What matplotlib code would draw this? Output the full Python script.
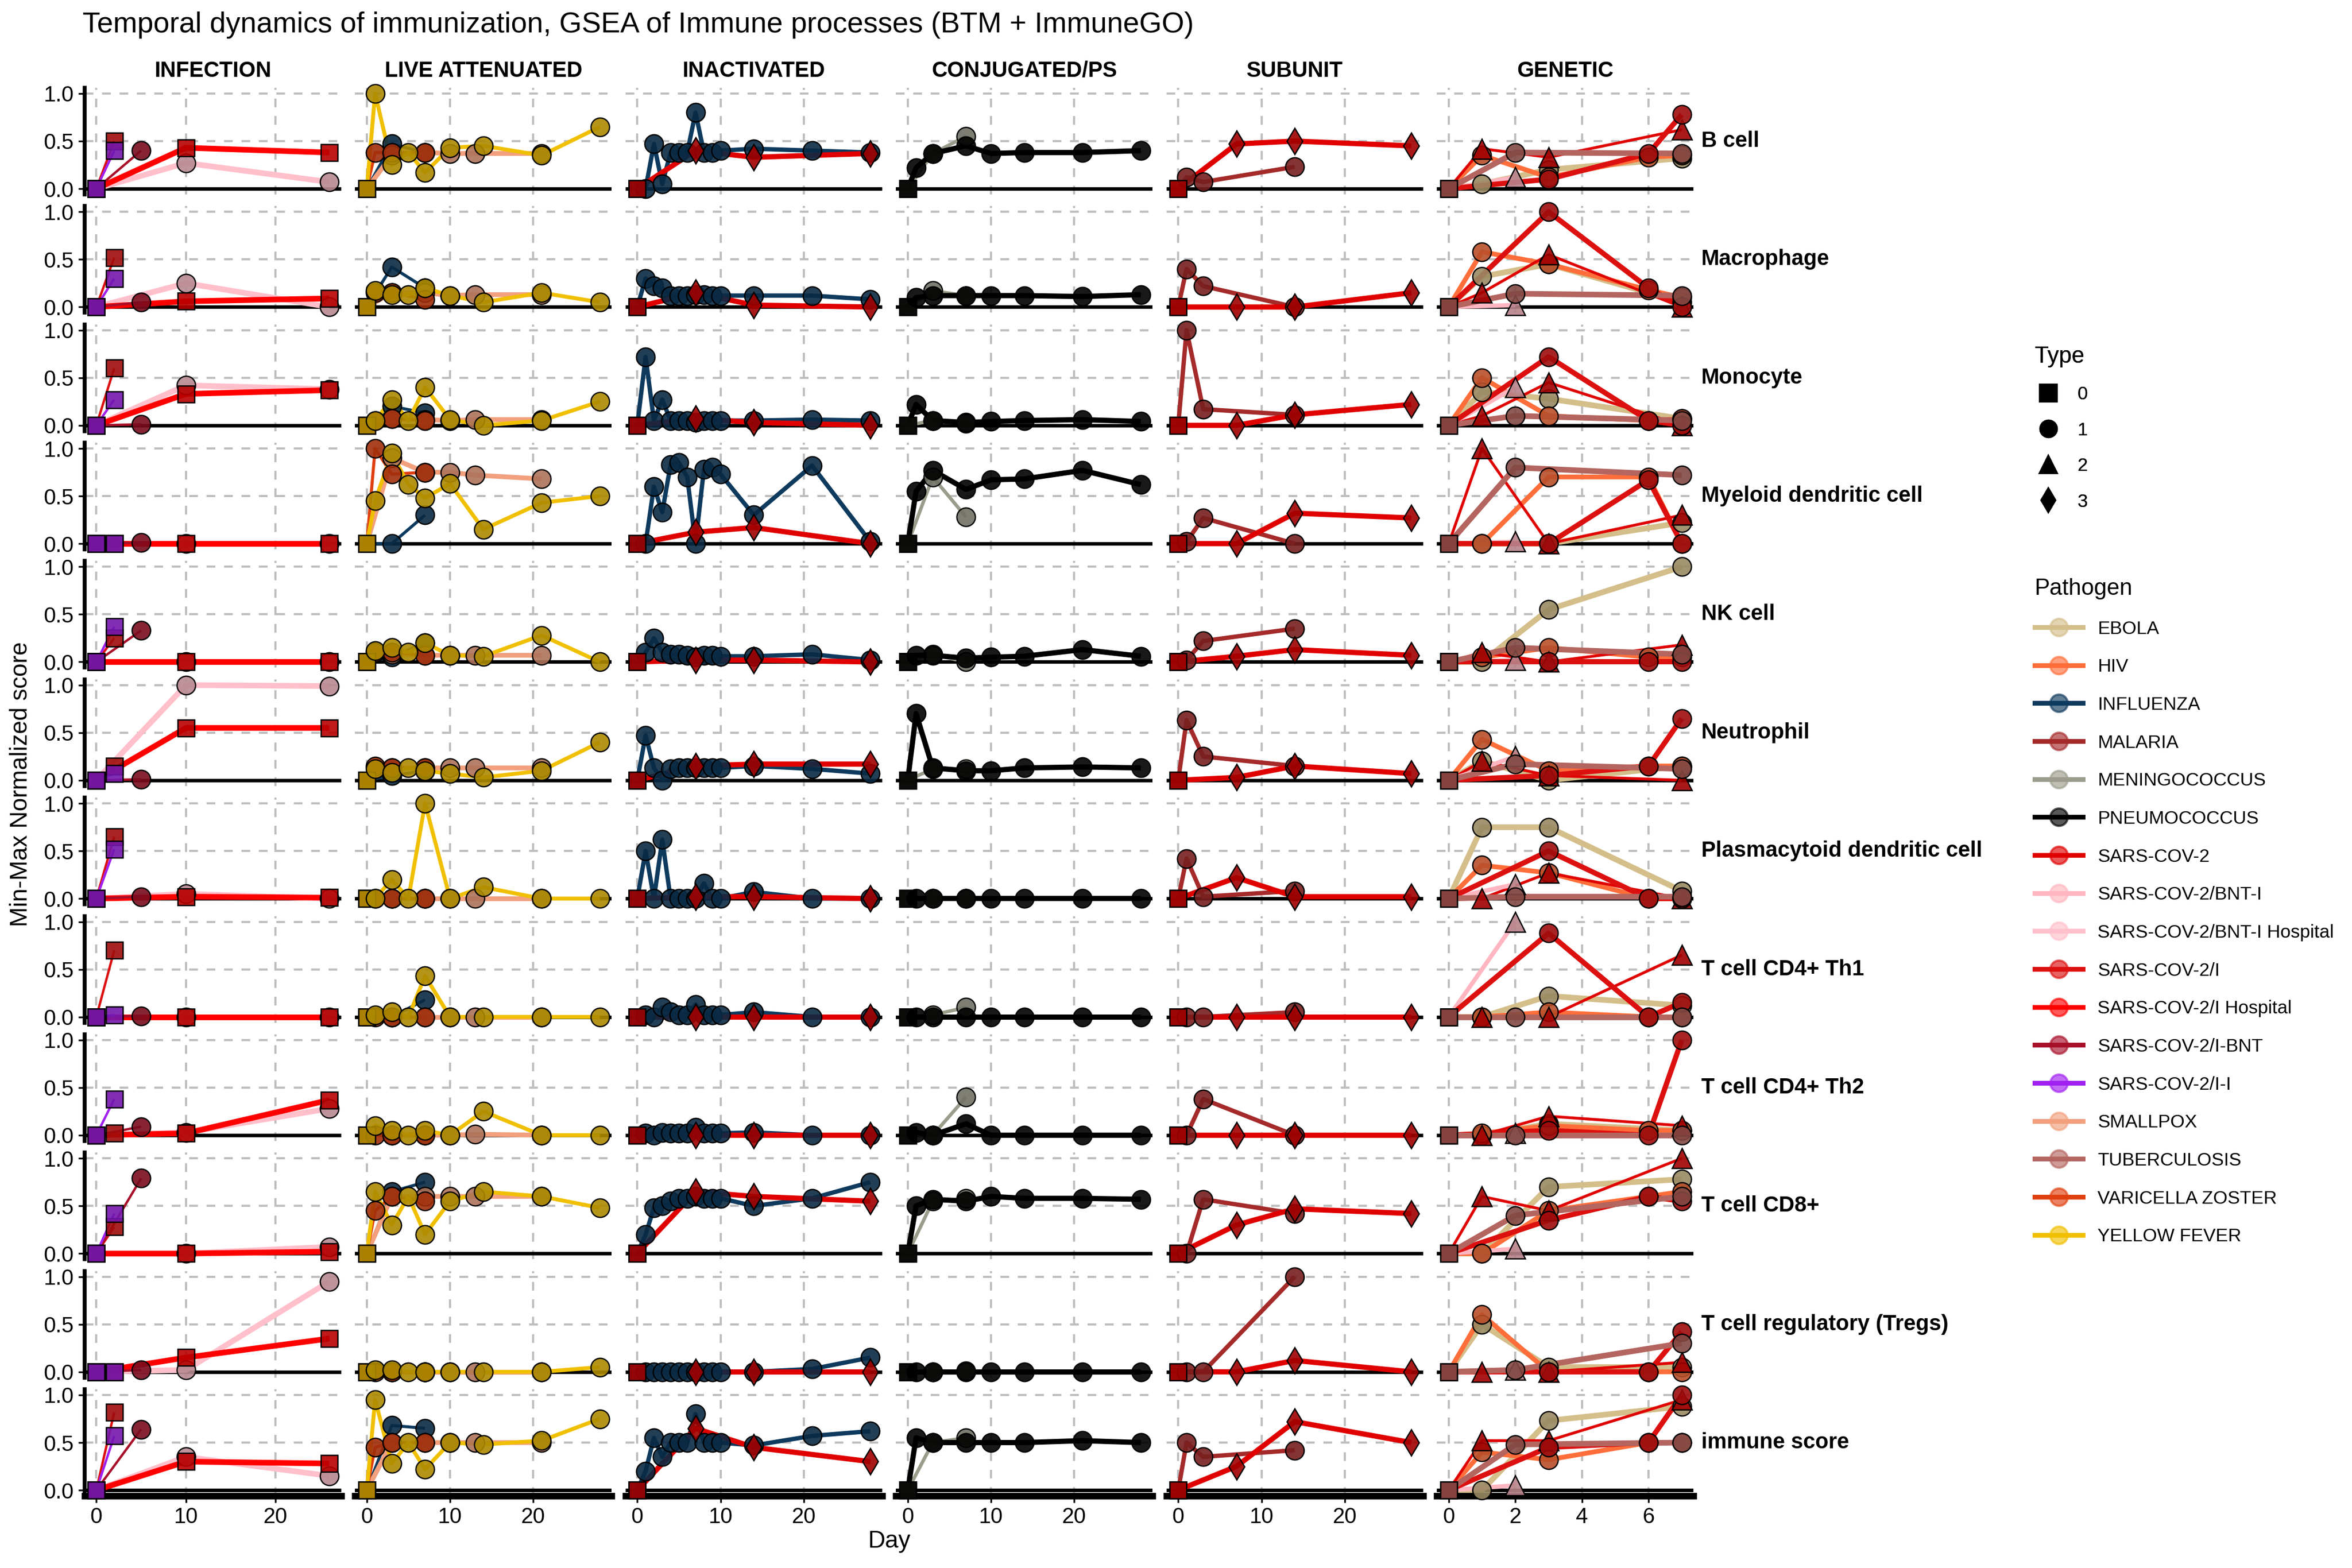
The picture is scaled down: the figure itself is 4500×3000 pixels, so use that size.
import numpy as np
import matplotlib.pyplot as plt
from matplotlib.lines import Line2D
from matplotlib.colors import to_rgb

plt.rcParams['font.family'] = ['Liberation Sans', 'DejaVu Sans']

cell_types = ["B cell", "Macrophage", "Monocyte", "Myeloid dendritic cell", "NK cell",
              "Neutrophil", "Plasmacytoid dendritic cell", "T cell CD4+ Th1",
              "T cell CD4+ Th2", "T cell CD8+", "T cell regulatory (Tregs)", "immune score"]
vaccine_types = ["INFECTION", "LIVE ATTENUATED", "INACTIVATED", "CONJUGATED/PS", "SUBUNIT", "GENETIC"]

pathogens = ["EBOLA", "HIV", "INFLUENZA", "MALARIA", "MENINGOCOCCUS", "PNEUMOCOCCUS",
             "SARS-COV-2", "SARS-COV-2/BNT-I", "SARS-COV-2/BNT-I Hospital", "SARS-COV-2/I",
             "SARS-COV-2/I Hospital", "SARS-COV-2/I-BNT", "SARS-COV-2/I-I", "SMALLPOX",
             "TUBERCULOSIS", "VARICELLA ZOSTER", "YELLOW FEVER"]
pathogen_colors = ["#D4BE8A", "#FF6E3A", "#0E3A5E", "#A52A2A", "#9C9C8C", "#000000",
                   "#E00000", "#FFB6C1", "#FFC0CB", "#DD1010", "#FF0000", "#A8102A",
                   "#A020F0", "#F2A07E", "#B4655F", "#E0400F", "#F0C000"]
type_labels = ["0", "1", "2", "3"]

# ---- INFECTION ----
inf_ii_days = [0, 2]
inf_ii_vals = [[0, .40], [0, .30], [0, .27], [0, 0], [0, .37], [0, .07],
               [0, .52], [0, .02], [0, .38], [0, .42], [0, 0], [0, .57]]
inf_i_days = [0, 2]
inf_i_vals = [[0, .50], [0, .52], [0, .60], [0, 0], [0, .25], [0, .15],
              [0, .65], [0, .70], [0, .02], [0, .28], [0, 0], [0, .82]]
inf_ibnt_days = [0, 5]
inf_ibnt_vals = [[0, .40], [0, .05], [0, .01], [0, .01], [0, .33], [0, .01],
                 [0, .02], [0, .01], [0, .09], [0, .79], [0, .02], [0, .64]]
inf_ihosp_days = [0, 10, 26]
inf_ihosp_vals = [[0, .43, .38], [0, .06, .09], [0, .33, .37], [0, 0, 0], [0, 0, 0],
                  [0, .55, .55], [0, .02, .01], [0, 0, 0], [0, .02, .37], [0, 0, .02],
                  [0, .15, .35], [0, .30, .28]]
inf_bnthosp_days = [0, 10, 26]
inf_bnthosp_vals = [[0, .27, .07], [0, .25, 0], [0, .42, .38], [0, 0, 0], [0, 0, 0],
                    [0, 1.0, .99], [0, .05, 0], [0, 0, 0], [0, .03, .28], [0, 0, .07],
                    [0, .02, .95], [0, .35, .15]]

# ---- LIVE ATTENUATED ----
la_vz_days = [0, 1, 3, 7]
la_vz_vals = [[0, .38, .38, .38], [0, .15, .15, .08], [0, .05, .07, .05], [0, 1.0, .73, .75],
              [0, .10, .10, .07], [0, .15, .13, .13], [0, 0, 0, 0], [0, 0, 0, 0],
              [0, 0, 0, 0], [0, .45, .60, .55], [0, 0, 0, 0], [0, .45, .50, .50]]
la_sp_days = [0, 3, 7, 10, 13, 21]
la_sp_vals = [[0, .35, .38, .37, .37, .37], [0, .15, .15, .12, .13, .13],
              [0, .07, .06, .05, .06, .06], [0, .90, .75, .75, .72, .68],
              [0, .08, .07, .07, .07, .07], [0, .13, .13, .13, .13, .13],
              [0, 0, 0, 0, 0, 0], [0, 0, 0, 0, 0, 0], [0, 0, 0, 0, .01, 0],
              [0, .60, .60, .60, .60, .60], [0, 0, 0, 0, 0, 0], [0, .50, .50, .50, .50, .50]]
la_flu_days = [0, 3, 7]
la_flu_vals = [[0, .47, .38], [0, .42, .20], [0, .20, .13], [0, 0, .30], [0, .05, .20],
               [0, .05, .10], [0, 0, 0], [0, 0, .18], [0, 0, 0], [0, .65, .75],
               [0, 0, 0], [0, .68, .65]]
la_yf_days = [0, 1, 3, 5, 7, 10, 14, 21, 28]
la_yf_vals = [[0, 1.0, .25, .38, .17, .43, .45, .35, .65],
              [0, .17, .13, .13, .20, .12, .05, .15, .05],
              [0, .05, .27, .05, .40, .06, 0, .05, .25],
              [0, .45, .95, .62, .48, .63, .15, .43, .50],
              [0, .12, .15, .10, .20, .07, .06, .28, 0],
              [0, .12, .08, .13, .10, .07, .03, .10, .40],
              [0, 0, .20, 0, 1.0, 0, .12, 0, 0],
              [0, .02, .05, 0, .43, 0, 0, 0, 0],
              [0, .10, .05, 0, .05, 0, .25, 0, 0],
              [0, .65, .30, .60, .20, .55, .65, .60, .48],
              [0, .02, .02, 0, 0, 0, 0, 0, .05],
              [0, .95, .28, .50, .22, .50, .48, .52, .75]]

# ---- INACTIVATED ----
ina_flu_days = [0, 1, 2, 3, 4, 5, 6, 7, 8, 9, 10, 14, 21, 28]
ina_flu_vals = [[0, 0, .47, .05, .38, .38, .38, .80, .38, .38, .40, .42, .40, .38],
                [0, .30, .22, .20, .12, .12, .12, .13, .13, .12, .12, .12, .12, .08],
                [0, .72, .05, .27, .05, .05, .05, .03, .05, .05, .05, .05, .06, .05],
                [0, 0, .60, .33, .83, .85, .70, 0, .78, .80, .73, .30, .82, .02],
                [0, .10, .25, .10, .08, .08, .07, .05, .07, .07, .06, .06, .08, .02],
                [0, .47, .13, 0, .12, .13, .13, .13, .13, .13, .13, .15, .12, .07],
                [0, .50, 0, .62, 0, 0, 0, 0, .16, 0, 0, .07, 0, 0],
                [0, .02, 0, .10, .05, .02, .02, .13, .02, .02, .02, .05, 0, 0],
                [0, .02, 0, .03, .02, .02, .02, .08, .02, .02, .02, .03, 0, 0],
                [0, .20, .48, .50, .55, .58, .58, .60, .58, .58, .58, .50, .58, .75],
                [0, 0, 0, 0, 0, 0, 0, 0, 0, 0, 0, 0, .03, .15],
                [0, .20, .55, .35, .50, .50, .50, .80, .50, .50, .50, .47, .57, .62]]
ina_cov_days = [0, 7, 14, 28]
ina_cov_vals = [[0, .40, .33, .37], [0, .15, .02, 0], [0, .07, .03, 0], [0, .12, .17, 0],
                [0, .02, .02, 0], [0, .15, .17, .17], [0, .02, .02, 0], [0, 0, 0, 0],
                [0, 0, 0, 0], [0, .65, .60, .55], [0, 0, 0, 0], [0, .65, .45, .30]]

# ---- CONJUGATED/PS ----
cj_men_days = [0, 3, 7]
cj_men_vals = [[0, .37, .55], [0, .17, .12], [0, .05, .02], [0, .70, .28], [0, .08, 0],
               [0, .12, .12], [0, 0, 0], [0, .02, .10], [0, 0, .40], [0, .55, .58],
               [0, 0, .01], [0, .50, .55]]
cj_pn_days = [0, 1, 3, 7, 10, 14, 21, 28]
cj_pn_vals = [[0, .22, .37, .45, .37, .38, .38, .40],
              [0, .10, .12, .12, .12, .12, .11, .13],
              [0, .22, .05, .03, .04, .05, .06, .04],
              [0, .55, .77, .57, .67, .68, .77, .62],
              [0, .07, .07, .04, .05, .06, .13, .06],
              [0, .70, .13, .10, .10, .13, .14, .13],
              [0, 0, 0, 0, 0, 0, 0, 0],
              [0, 0, 0, 0, 0, 0, 0, 0],
              [0, .03, 0, .12, 0, 0, 0, 0],
              [0, .50, .57, .55, .60, .58, .58, .57],
              [0, 0, 0, 0, 0, 0, 0, 0],
              [0, .55, .50, .50, .50, .50, .52, .50]]

# ---- SUBUNIT ----
su_mal_days = [0, 1, 3, 14]
su_mal_vals = [[0, .12, .07, .23], [0, .40, .22, 0], [0, 1.0, .17, .11], [0, .02, .27, 0],
               [0, .02, .22, .35], [0, .63, .25, .15], [0, .42, .02, .08], [0, 0, 0, .05],
               [0, 0, .38, 0], [0, 0, .57, .42], [0, 0, 0, 1.0], [0, .50, .35, .42]]
su_cov_days = [0, 7, 14, 28]
su_cov_vals = [[0, .47, .50, .45], [0, 0, 0, .15], [0, 0, .11, .22], [0, 0, .32, .27],
               [0, .06, .13, .07], [0, .03, .15, .07], [0, .22, .02, .02], [0, 0, 0, 0],
               [0, 0, 0, 0], [0, .30, .47, .42], [0, 0, .12, 0], [0, .25, .72, .50]]

# ---- GENETIC ----
ge_ebola_days = [0, 1, 3, 7]
ge_ebola_vals = [[0, .05, .20, .32], [0, .32, .45, .05], [0, .35, .28, .07], [0, 0, 0, .22],
                 [0, 0, .55, 1.0], [0, .20, 0, .15], [0, .75, .75, .08], [0, 0, .22, .12],
                 [0, 0, .12, .05], [0, 0, .70, .78], [0, .50, .05, .05], [0, 0, .73, .88]]
ge_hiv_days = [0, 1, 3, 6, 7]
ge_hiv_vals = [[0, .35, .12, .33, .35], [0, .58, .45, .18, .10], [0, .50, .10, .05, .07],
               [0, 0, .70, .70, 0], [0, .05, .15, .05, .05], [0, .43, .10, .15, .15],
               [0, .35, .27, 0, 0], [0, 0, .05, 0, 0], [0, .02, .10, .05, .05],
               [0, 0, .45, .60, .65], [0, .60, 0, 0, 0], [0, .40, .32, .50, .50]]
ge_cov_days = [0, 1, 3, 7]
ge_cov_vals = [[0, .42, .33, .62], [0, .15, .55, 0], [0, .10, .45, 0], [0, 1.0, 0, .30],
               [0, .10, 0, .18], [0, .20, .05, 0], [0, 0, .27, 0], [0, 0, 0, .65],
               [0, 0, .20, .10], [0, .60, .45, 1.0], [0, 0, 0, .10], [0, .52, .52, .95]]
ge_covi_days = [0, 3, 6, 7]
ge_covi_vals = [[0, .10, .37, .78], [0, 1.0, .20, 0], [0, .72, .05, 0], [0, 0, .67, 0],
                [0, 0, 0, 0], [0, .05, .15, .65], [0, .50, 0, 0], [0, .88, 0, .15],
                [0, .05, 0, 1.0], [0, .35, .60, .55], [0, 0, 0, .42], [0, .45, .50, 1.0]]
ge_tb_days = [0, 2, 7]
ge_tb_vals = [[0, .38, .37], [0, .14, .12], [0, .10, .05], [0, .80, .72], [0, .15, .08],
              [0, .17, .12], [0, .02, .02], [0, 0, 0], [0, 0, 0], [0, .40, .60],
              [0, .02, .30], [0, .48, .50]]
ge_bnt_days = [0, 2]
ge_bnt_vals = [[0, .12], [0, .02], [0, .40], [0, .02], [0, .02], [0, .25], [0, .15],
               [0, 1.0], [0, .02], [0, .05], [0, .02], [0, .05]]

# (column, pathogen, type, line width, days, values)
series = [
    ("INFECTION", "SARS-COV-2/I", 0, 1.1, inf_i_days, inf_i_vals),
    ("INFECTION", "SARS-COV-2/I Hospital", 0, 2.6, inf_ihosp_days, inf_ihosp_vals),
    ("INFECTION", "SARS-COV-2/BNT-I Hospital", 1, 2.6, inf_bnthosp_days, inf_bnthosp_vals),
    ("INFECTION", "SARS-COV-2/I-BNT", 1, 1.1, inf_ibnt_days, inf_ibnt_vals),
    ("INFECTION", "SARS-COV-2/I-I", 0, 1.1, inf_ii_days, inf_ii_vals),
    ("LIVE ATTENUATED", "INFLUENZA", 1, 1.4, la_flu_days, la_flu_vals),
    ("LIVE ATTENUATED", "SMALLPOX", 1, 2.2, la_sp_days, la_sp_vals),
    ("LIVE ATTENUATED", "VARICELLA ZOSTER", 1, 1.4, la_vz_days, la_vz_vals),
    ("LIVE ATTENUATED", "YELLOW FEVER", 1, 1.8, la_yf_days, la_yf_vals),
    ("INACTIVATED", "INFLUENZA", 1, 2.0, ina_flu_days, ina_flu_vals),
    ("INACTIVATED", "SARS-COV-2", 3, 2.4, ina_cov_days, ina_cov_vals),
    ("CONJUGATED/PS", "MENINGOCOCCUS", 1, 1.6, cj_men_days, cj_men_vals),
    ("CONJUGATED/PS", "PNEUMOCOCCUS", 1, 2.4, cj_pn_days, cj_pn_vals),
    ("SUBUNIT", "MALARIA", 1, 2.0, su_mal_days, su_mal_vals),
    ("SUBUNIT", "SARS-COV-2", 3, 2.4, su_cov_days, su_cov_vals),
    ("GENETIC", "EBOLA", 1, 2.6, ge_ebola_days, ge_ebola_vals),
    ("GENETIC", "HIV", 1, 2.2, ge_hiv_days, ge_hiv_vals),
    ("GENETIC", "SARS-COV-2", 2, 1.3, ge_cov_days, ge_cov_vals),
    ("GENETIC", "SARS-COV-2/BNT-I", 2, 2.0, ge_bnt_days, ge_bnt_vals),
    ("GENETIC", "SARS-COV-2/I", 1, 2.4, ge_covi_days, ge_covi_vals),
    ("GENETIC", "TUBERCULOSIS", 1, 2.6, ge_tb_days, ge_tb_vals),
]

markers = {0: 's', 1: 'o', 2: '^', 3: 'd'}
msizes = {0: 7.5, 1: 8.5, 2: 9, 3: 8.5}
col_of = dict(zip(pathogens, pathogen_colors))

def dark(c, f=0.72):
    r, g, b = to_rgb(c)
    return (r * f, g * f, b * f, 0.9)

fig = plt.figure(figsize=(15, 10), dpi=300)
gs = fig.add_gridspec(len(cell_types), len(vaccine_types), left=0.036, right=0.72,
                      top=0.944, bottom=0.046, wspace=0.055, hspace=0.11)

grid_kw = dict(color='#BEBEBE', lw=1.0, ls=(0, (4, 4)), zorder=0)

for r, cell in enumerate(cell_types):
    for c, vac in enumerate(vaccine_types):
        ax = fig.add_subplot(gs[r, c])
        if vac == "GENETIC":
            ax.set_xlim(-0.35, 7.35)
            xt = [0, 2, 4, 6]
        elif vac == "INFECTION":
            ax.set_xlim(-1.3, 27.3)
            xt = [0, 10, 20]
        else:
            ax.set_xlim(-1.4, 29.4)
            xt = [0, 10, 20]
        ax.set_ylim(-0.06, 1.06)
        ax.set_xticks(xt)
        ax.set_yticks([0, 0.5, 1.0])
        for xv in xt:
            ax.axvline(xv, **grid_kw)
        for yv in [0.5, 1.0]:
            ax.axhline(yv, **grid_kw)
        ax.axhline(0, color='black', lw=1.6, zorder=1)

        sel = [s for s in series if s[0] == vac]
        sel.sort(key=lambda s: pathogens.index(s[1]))
        for _, path, typ, lw, days, vals in sel:
            ax.plot(days, vals[r], color=col_of[path], lw=lw, zorder=2,
                    solid_capstyle='butt')
        for _, path, typ, lw, days, vals in sel:
            for d, v in zip(days, vals[r]):
                t = 0 if d == 0 else typ
                ax.plot(d, v, ls='none', marker=markers[t], ms=msizes[t],
                        mfc=dark(col_of[path]), mec='black', mew=0.6, zorder=3,
                        clip_on=False)

        for sp in ['top', 'right']:
            ax.spines[sp].set_visible(False)
        ax.spines['left'].set_visible(c == 0)
        ax.spines['left'].set_linewidth(1.8)
        ax.spines['bottom'].set_visible(r == len(cell_types) - 1)
        ax.spines['bottom'].set_linewidth(3.0)
        ax.tick_params(axis='x', bottom=(r == len(cell_types) - 1),
                       labelbottom=(r == len(cell_types) - 1), labelsize=10,
                       length=3, width=0.8, pad=2)
        ax.tick_params(axis='y', left=(c == 0), labelleft=(c == 0), labelsize=10,
                       length=3, width=0.8, pad=2)
        if c == 0:
            ax.set_yticklabels(["0.0", "0.5", "1.0"])
        if r == 0:
            ax.set_title(vac, fontsize=10, fontweight='bold', pad=5)
        if c == len(vaccine_types) - 1:
            ax.text(1.03, 0.5, cell, transform=ax.transAxes, ha='left', va='center',
                    fontsize=10, fontweight='bold')

fig.text(0.035, 0.984, "Temporal dynamics of immunization, GSEA of Immune processes (BTM + ImmuneGO)",
         fontsize=13.3, ha='left', va='center')
fig.text(0.009, 0.5, "Min-Max Normalized score", rotation=90, fontsize=11,
         ha='center', va='center')
fig.text(0.378, 0.017, "Day", fontsize=11, ha='center', va='center')

type_handles = [Line2D([], [], ls='none', marker=markers[i], color='black',
                       ms=7.5) for i in range(4)]
leg1 = fig.legend(type_handles, type_labels, title="Type", loc='upper left',
                  bbox_to_anchor=(0.858, 0.79), frameon=False, fontsize=8.5,
                  title_fontsize=10.5, labelspacing=1.0, handlelength=1.5,
                  alignment='left')
path_handles = [Line2D([], [], color=col, lw=2.2, marker='o', ms=8,
                       mfc=to_rgb(col) + (0.65,), mec=to_rgb(col) + (0.65,))
                for col in pathogen_colors]
leg2 = fig.legend(path_handles, pathogens, title="Pathogen", loc='upper left',
                  bbox_to_anchor=(0.858, 0.642), frameon=False, fontsize=8.5,
                  title_fontsize=10.5, labelspacing=1.12, handlelength=2.6,
                  alignment='left')
fig.add_artist(leg1)

fig.savefig("out.png", dpi=300)
